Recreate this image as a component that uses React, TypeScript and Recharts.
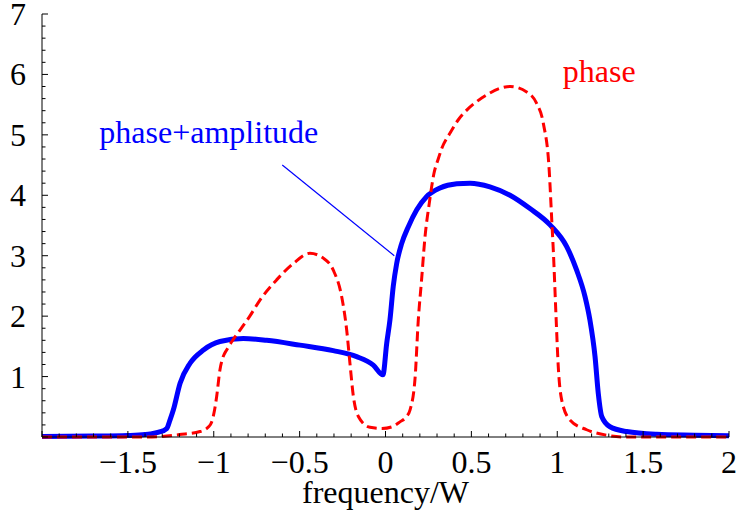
import { LineChart, Line, XAxis, YAxis, ReferenceLine, ReferenceDot } from "recharts"

// red dashed curve ("phase")
const phaseX = [
  -2, -1.6, -1.41, -1.3, -1.2, -1.08, -1.03, -1.012, -0.995, -0.983, -0.964, -0.945, -0.925, -0.89,
  -0.847, -0.79, -0.73, -0.634, -0.537, -0.44, -0.362, -0.304, -0.255, -0.226, -0.207, -0.187,
  -0.158, -0.09, -0.02, 0.04, 0.084, 0.12, 0.143, 0.172, 0.191, 0.21, 0.23, 0.255, 0.282, 0.307,
  0.327, 0.376, 0.424, 0.473, 0.531, 0.589, 0.667, 0.725, 0.822, 0.88, 0.919, 0.953, 0.968, 0.977,
  0.993, 1.006, 1.026, 1.074, 1.171, 1.288, 1.4, 1.6, 2,
]
const phaseY = [
  0, 0, 0, 0.01, 0.04, 0.09, 0.17, 0.25, 0.45, 0.67, 1.11, 1.33, 1.44, 1.6,
  1.77, 2.0, 2.27, 2.6, 2.87, 3.04, 2.96, 2.76, 2.32, 1.77, 1.22, 0.67,
  0.34, 0.16, 0.14, 0.17, 0.25, 0.33, 0.45, 0.97, 1.94, 2.6, 3.31, 3.87, 4.36, 4.6,
  4.77, 5.03, 5.25, 5.41, 5.55, 5.66, 5.77, 5.8, 5.71, 5.52, 5.19, 4.42, 3.59, 3.09,
  1.99, 1.16, 0.61, 0.28, 0.12, 0.03, 0, 0, 0,
]

// blue thick curve ("phase+amplitude")
const ampX = [
  -2, -1.7, -1.5, -1.4, -1.37, -1.32, -1.274, -1.255, -1.235, -1.196, -1.138, -1.06, -0.964,
  -0.828, -0.692, -0.498, -0.304, -0.168, -0.071, -0.015, 0.007, 0.026, 0.045, 0.065, 0.094,
  0.133, 0.182, 0.24, 0.317, 0.415, 0.492, 0.608, 0.725, 0.841, 0.958, 1.055, 1.113, 1.162,
  1.19, 1.22, 1.239, 1.259, 1.307, 1.404, 1.579, 1.8, 2,
]
const ampY = [
  0.01, 0.015, 0.025, 0.04, 0.05, 0.08, 0.14, 0.28, 0.45, 0.89, 1.22, 1.44, 1.58,
  1.63, 1.6, 1.52, 1.43, 1.33, 1.19, 1.03, 1.55, 1.94, 2.49, 2.87, 3.2,
  3.48, 3.76, 3.98, 4.12, 4.19, 4.2, 4.14, 4.0, 3.78, 3.51, 3.15, 2.76, 2.32,
  1.94, 1.33, 0.72, 0.34, 0.17, 0.09, 0.045, 0.03, 0.02,
]

const xLabelTicks = [-1.5, -1, -0.5, 0, 0.5, 1, 1.5, 2]
const xLabels = ["−1.5", "−1", "−0.5", "0", "0.5", "1", "1.5", "2"]
const yLabelTicks = [1, 2, 3, 4, 5, 6, 7]
const yLabels = ["1", "2", "3", "4", "5", "6", "7"]

const xTicks = Array.from({ length: 41 }, (_, i) => Math.round(-20 + i) / 10)
const yTicks = Array.from({ length: 36 }, (_, i) => Math.round(i * 2) / 10)

const phaseData = phaseX.map((x, i) => ({ x, y: phaseY[i] }))
const ampData = ampX.map((x, i) => ({ x, y: ampY[i] }))

const FONT = '"Liberation Serif", "Times New Roman", serif'

const isXMajor = (v: number) => Math.abs(v * 2 - Math.round(v * 2)) < 1e-6
const isYMajor = (v: number) => Math.abs(v - Math.round(v)) < 1e-6
const labelIndex = (list: number[], v: number) => list.findIndex((t) => Math.abs(t - v) < 1e-6)

function BottomTick({ x, y, payload }: any) {
  const v = payload.value
  const len = isXMajor(v) ? 6 : 3.5
  const i = labelIndex(xLabelTicks, v)
  return (
    <g>
      <line x1={x} y1={y} x2={x} y2={y - len} stroke="#000" />
      {i >= 0 && (
        <text x={x} y={y + 36} textAnchor="middle" fontFamily={FONT} fontSize={32} fill="#000">
          {xLabels[i]}
        </text>
      )}
    </g>
  )
}

function TopTick({ x, y, payload }: any) {
  const len = isXMajor(payload.value) ? 6 : 3.5
  return <line x1={x} y1={y} x2={x} y2={y + len} stroke="#000" />
}

function LeftTick({ x, y, payload }: any) {
  const v = payload.value
  const len = isYMajor(v) ? 6 : 3.5
  const i = labelIndex(yLabelTicks, v)
  return (
    <g>
      <line x1={x} y1={y} x2={x + len} y2={y} stroke="#000" />
      {i >= 0 && (
        <text x={x - 16} y={y + 11} textAnchor="end" fontFamily={FONT} fontSize={32} fill="#000">
          {yLabels[i]}
        </text>
      )}
    </g>
  )
}

function RightTick({ x, y, payload }: any) {
  const len = isYMajor(payload.value) ? 6 : 3.5
  return <line x1={x} y1={y} x2={x - len} y2={y} stroke="#000" />
}

const noteText = (text: string, color: string) => (p: any) => (
  <text x={p.cx} y={p.cy} fontFamily={FONT} fontSize={32} fill={color}>
    {text}
  </text>
)

const axisTitle = (p: any) => (
  <text
    x={p.viewBox.x + p.viewBox.width / 2}
    y={p.viewBox.y + 66}
    textAnchor="middle"
    fontFamily={FONT}
    fontSize={32}
    fill="#000"
  >
    frequency/W
  </text>
)

export default function App() {
  return (
    <div style={{ position: "absolute", left: 0, top: 0, background: "#fff" }}>
      <LineChart width={737} height={518} margin={{ top: 14, right: 8, left: 0, bottom: 0 }}>
        <XAxis
          xAxisId="b"
          dataKey="x"
          type="number"
          domain={[-2, 2]}
          ticks={xTicks}
          interval={0}
          height={81}
          tickSize={0}
          tickMargin={0}
          tickLine={false}
          tick={<BottomTick />}
          axisLine={{ stroke: "#000" }}
          label={{ content: axisTitle }}
        />
        <XAxis
          xAxisId="t"
          orientation="top"
          dataKey="x"
          type="number"
          domain={[-2, 2]}
          ticks={xTicks}
          interval={0}
          height={0}
          tickSize={0}
          tickMargin={0}
          tickLine={false}
          tick={<TopTick />}
          axisLine={{ stroke: "#000" }}
        />
        <YAxis
          yAxisId="l"
          type="number"
          domain={[0, 7]}
          ticks={yTicks}
          interval={0}
          width={42}
          tickSize={0}
          tickMargin={0}
          tickLine={false}
          tick={<LeftTick />}
          axisLine={{ stroke: "#000" }}
        />
        <YAxis
          yAxisId="r"
          orientation="right"
          type="number"
          domain={[0, 7]}
          ticks={yTicks}
          interval={0}
          width={0}
          tickSize={0}
          tickMargin={0}
          tickLine={false}
          tick={<RightTick />}
          axisLine={{ stroke: "#000" }}
        />
        <ReferenceLine
          xAxisId="b"
          yAxisId="l"
          segment={[{ x: -0.601, y: 4.5 }, { x: 0.051, y: 3.0 }]}
          stroke="#0000ff"
          strokeWidth={1.2}
        />
        <Line
          xAxisId="b"
          yAxisId="l"
          data={ampData}
          dataKey="y"
          type="monotone"
          stroke="#0000ff"
          strokeWidth={5}
          dot={false}
          isAnimationActive={false}
        />
        <Line
          xAxisId="b"
          yAxisId="l"
          data={phaseData}
          dataKey="y"
          type="monotone"
          stroke="#ff0000"
          strokeWidth={3}
          strokeDasharray="10 5"
          dot={false}
          isAnimationActive={false}
        />
        <ReferenceDot xAxisId="b" yAxisId="l" x={-1.666} y={4.86} r={0} shape={noteText("phase+amplitude", "#0000ff")} />
        <ReferenceDot xAxisId="b" yAxisId="l" x={1.032} y={5.88} r={0} shape={noteText("phase", "#ff0000")} />
      </LineChart>
    </div>
  )
}
